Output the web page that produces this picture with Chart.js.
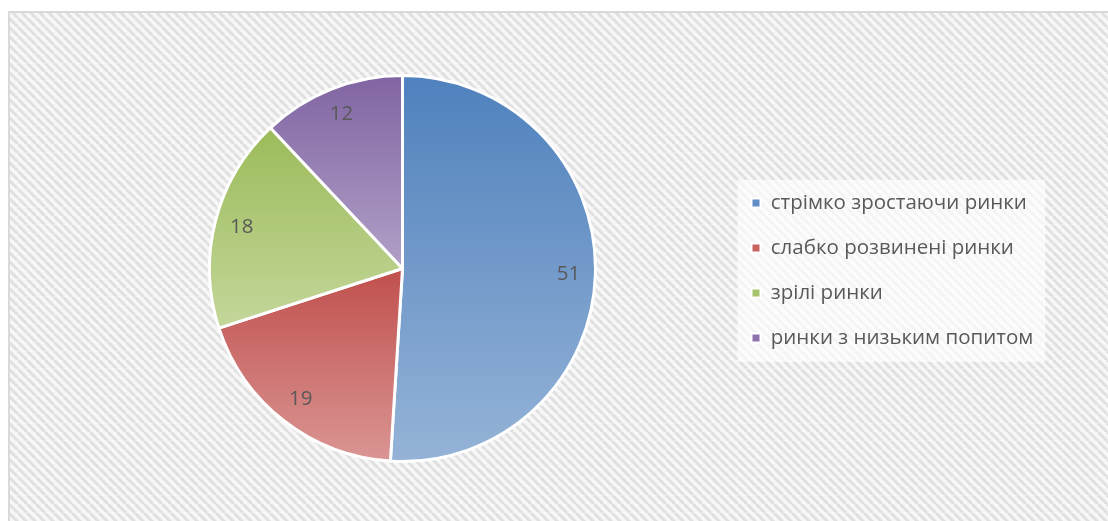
<!DOCTYPE html>
<html>
<head>
<meta charset="utf-8">
<script src="https://cdn.jsdelivr.net/npm/chart.js@4"></script>
<style>
  body { margin: 0; background: #fff; }
  canvas { display: block; }
</style>
</head>
<body>
<canvas id="chart" width="1108" height="521"></canvas>
<script>
// Data
const categories = ["стрімко зростаючи ринки", "слабко розвинені ринки", "зрілі ринки", "ринки з низьким попитом"];
const values = [51, 19, 18, 12];

// Slice colours: dark at the top of each slice, light at the bottom
const topColors = ["#4f81bd", "#c0504d", "#9bbb59", "#8064a2"];
const bottomColors = ["#95b3d7", "#da9694", "#c4d79b", "#b1a0c7"];
const legendColors = ["#5f8dc6", "#c8625f", "#a6c26c", "#8c73ad"];

const FONT = "'Open Sans', Lato, sans-serif";
const TEXT_COLOR = "#595959";

// Vertical gradient over the bounding box of one slice
function sliceGradient(context) {
  const chart = context.chart;
  const area = chart.chartArea;
  const i = context.dataIndex;
  if (!area) return topColors[i];
  const cx = (area.left + area.right) / 2;
  const cy = (area.top + area.bottom) / 2;
  const r = Math.min(area.width, area.height) / 2;
  const total = values.reduce((a, b) => a + b, 0);
  let before = 0;
  for (let k = 0; k < i; k++) before += values[k];
  const a1 = -Math.PI / 2 + before / total * 2 * Math.PI;
  const a2 = a1 + values[i] / total * 2 * Math.PI;
  const ys = [cy, cy + r * Math.sin(a1), cy + r * Math.sin(a2)];
  [-Math.PI / 2, Math.PI / 2, 3 * Math.PI / 2].forEach((a) => {
    if (a > a1 && a < a2) ys.push(cy + r * Math.sin(a));
  });
  const g = chart.ctx.createLinearGradient(0, Math.min(...ys), 0, Math.max(...ys));
  g.addColorStop(0, topColors[i]);
  g.addColorStop(1, bottomColors[i]);
  return g;
}

// Hatched background, frame and the legend panel
const chartBackground = {
  id: "chartBackground",
  beforeDraw(chart) {
    const ctx = chart.ctx;
    const tile = document.createElement("canvas");
    const s = 9;
    tile.width = s;
    tile.height = s;
    const t = tile.getContext("2d");
    t.fillStyle = "#f7f7f7";
    t.fillRect(0, 0, s, s);
    t.strokeStyle = "#e0e0e0";
    t.lineWidth = 3;
    [-s, 0, s].forEach((o) => {
      t.beginPath();
      t.moveTo(o, 0);
      t.lineTo(o + s, s);
      t.stroke();
    });

    ctx.save();
    ctx.fillStyle = "#fff";
    ctx.fillRect(0, 0, chart.width, chart.height);
    ctx.fillStyle = ctx.createPattern(tile, "repeat");
    ctx.fillRect(10, 13, chart.width, chart.height);
    ctx.strokeStyle = "#d9d9d9";
    ctx.lineWidth = 2;
    ctx.strokeRect(9, 12, chart.width + 20, chart.height + 20);

    // legend panel
    const boxes = chart.legend.legendHitBoxes;
    if (boxes && boxes.length) {
      const first = boxes[0];
      const last = boxes[boxes.length - 1];
      const right = Math.max(...boxes.map((b) => b.left + b.width));
      const x0 = first.left - 14;
      const y0 = first.top + first.height / 2 - 23;
      const y1 = last.top + last.height / 2 + 24;
      ctx.fillStyle = "rgba(255,255,255,0.65)";
      ctx.fillRect(x0, y0, right + 12 - x0, y1 - y0);
    }
    ctx.restore();
  }
};

// Put the legend where the original has it
const legendPlacement = {
  id: "legendPlacement",
  afterLayout(chart) {
    const lg = chart.legend;
    lg.left = 727;
    lg.right = 1100;
    lg.width = lg.right - lg.left;
    lg.top += 2;
    lg.bottom += 2;
  }
};

// Value labels inside the slices
const sliceLabels = {
  id: "sliceLabels",
  afterDatasetsDraw(chart) {
    const ctx = chart.ctx;
    const arcs = chart.getDatasetMeta(0).data;
    ctx.save();
    ctx.font = "20.5px " + FONT;
    ctx.fillStyle = TEXT_COLOR;
    ctx.textAlign = "center";
    ctx.textBaseline = "middle";
    arcs.forEach((arc, i) => {
      const p = arc.getProps(["x", "y", "startAngle", "endAngle", "outerRadius"]);
      const mid = (p.startAngle + p.endAngle) / 2;
      const d = p.outerRadius * 0.86;
      ctx.fillText(String(values[i]), p.x + Math.cos(mid) * d, p.y + Math.sin(mid) * d);
    });
    ctx.restore();
  }
};

new Chart(document.getElementById("chart"), {
  type: "pie",
  data: {
    labels: categories,
    datasets: [{
      data: values,
      backgroundColor: sliceGradient,
      borderColor: "#fff",
      borderWidth: 3
    }]
  },
  options: {
    responsive: false,
    animation: false,
    devicePixelRatio: 1,
    layout: { padding: { left: 208, top: 74, right: 311, bottom: 58 } },
    plugins: {
      legend: {
        position: "right",
        maxWidth: 200,
        labels: {
          font: { family: FONT, size: 20.5 },
          color: TEXT_COLOR,
          boxWidth: 9,
          boxHeight: 9,
          padding: 24.5,
          generateLabels: () => categories.map((c, i) => ({
            text: c,
            fillStyle: legendColors[i],
            strokeStyle: "#fff",
            lineWidth: 2,
            fontColor: TEXT_COLOR,
            hidden: false,
            index: i
          }))
        }
      },
      tooltip: { enabled: false }
    }
  },
  plugins: [chartBackground, legendPlacement, sliceLabels]
});
</script>
</body>
</html>
